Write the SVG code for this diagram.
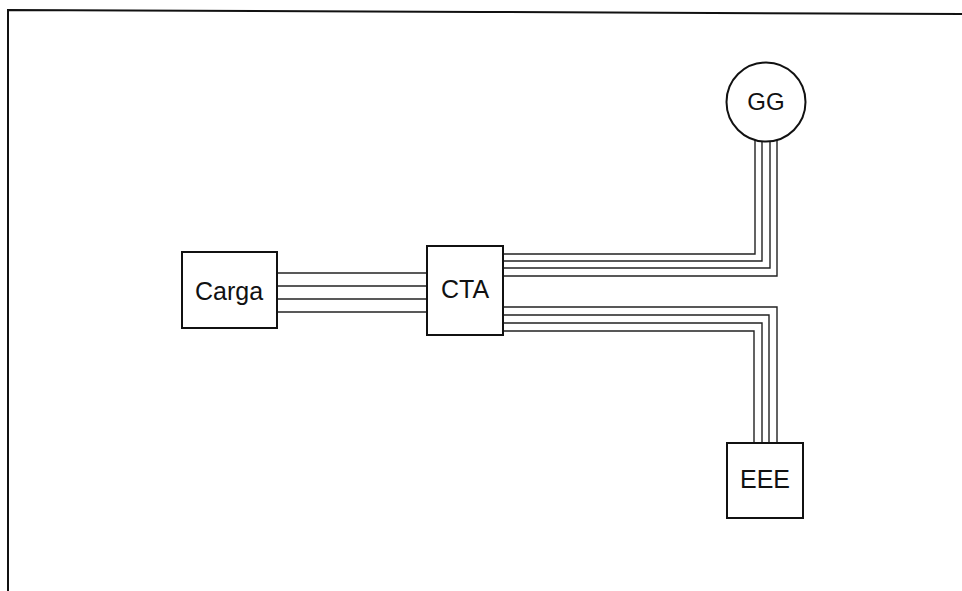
<svg xmlns="http://www.w3.org/2000/svg" width="962" height="591" viewBox="0 0 962 591">
<style>
.box{fill:#fff;stroke:#111;stroke-width:2}
.lbl{font-family:"Liberation Sans",Arial,sans-serif;font-size:25px;fill:#111;text-anchor:middle}
.w{fill:none;stroke:#222;stroke-width:1.4}
.frame{fill:none;stroke:#111;stroke-width:2}
</style>
<rect width="962" height="591" fill="#fff"/>
<path class="frame" d="M8,591 L8,10 L480,12 L962,14"/>
<g id="connectors">
<path class="w" d="M277,273 H427"/>
<path class="w" d="M277,286 H427"/>
<path class="w" d="M277,299 H427"/>
<path class="w" d="M277,312 H427"/>
<path class="w" d="M503,254 H755 V140"/>
<path class="w" d="M503,261 H762 V141"/>
<path class="w" d="M503,268 H770 V141"/>
<path class="w" d="M503,276 H777 V140"/>
<path class="w" d="M503,307 H777 V443"/>
<path class="w" d="M503,315 H769 V443"/>
<path class="w" d="M503,323 H762 V443"/>
<path class="w" d="M503,331 H754 V443"/>
</g>
<g id="carga">
<rect class="box" x="182" y="252" width="95" height="76"/>
<text class="lbl" x="229" y="300">Carga</text>
</g>
<g id="cta">
<rect class="box" x="427" y="246" width="76" height="89"/>
<text class="lbl" x="465" y="298">CTA</text>
</g>
<g id="gg">
<circle class="box" cx="766" cy="102" r="39.5"/>
<text class="lbl" x="766" y="110" style="font-size:24px">GG</text>
</g>
<g id="eee">
<rect class="box" x="727" y="443" width="76" height="75"/>
<text class="lbl" x="765" y="488">EEE</text>
</g>
</svg>
